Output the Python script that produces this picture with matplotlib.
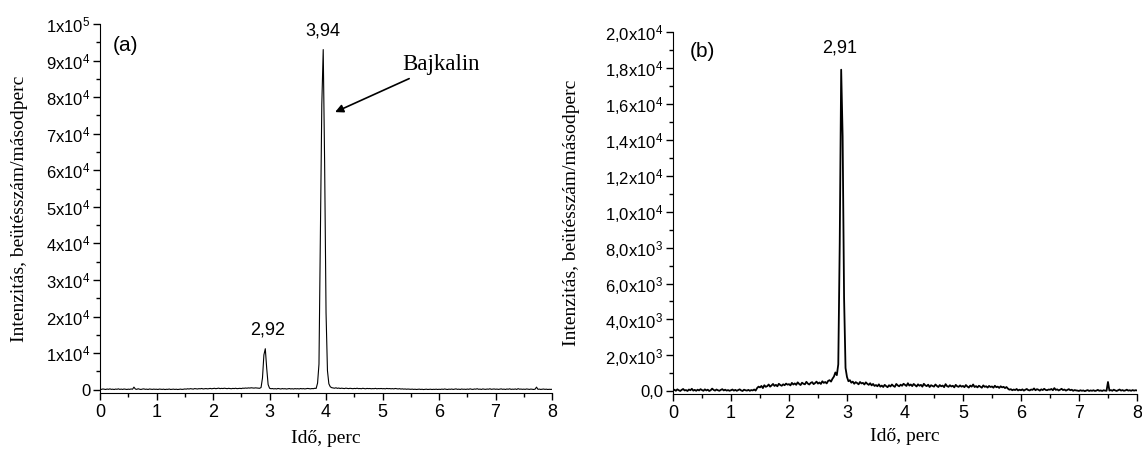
import numpy as np
import matplotlib
matplotlib.use('Agg')
import matplotlib.pyplot as plt
from matplotlib.ticker import MultipleLocator, FixedLocator

plt.rcParams['font.family'] = ['Liberation Sans', 'DejaVu Sans']
plt.rcParams['mathtext.default'] = 'regular'

# 时间轴: 0-8 perc, 0.025 perc 步长
ido = np.linspace(0, 8, 321)

# (a) 面板强度
intenzitas_a = [
    150, 80, 200, 120, 60, 180, 100, 220, 90, 140, 50, 170, 110, 230, 80, 160, 70, 190, 130, 60,
    150, 90, 200, 120, 700, 180, 90, 250, 130, 60, 170, 220, 100, 150, 60, 190, 120, 80, 160, 100,
    130, 60, 170, 110, 80, 150, 40, 120, 90, 180, 60, 110, 150, 70, 130, 50, 100, 160, 80, 120,
    200, 150, 250, 180, 280, 220, 160, 300, 230, 190, 280, 240, 330, 200, 260, 310, 230, 270, 350, 250,
    300, 380, 270, 340, 420, 290, 360, 310, 400, 330, 280, 370, 320, 260, 350, 300, 390, 280, 330, 370,
    300, 420, 380, 460, 400, 490, 440, 520, 470, 430, 500, 450, 400, 380, 600, 3200, 9500, 11200, 5800, 1400,
    400, 260, 310, 220, 280, 200, 330, 250, 190, 300, 230, 270, 180, 240, 310, 210, 260, 190, 290, 230,
    270, 200, 320, 240, 290, 210, 260, 340, 280, 230, 310, 270, 380, 350, 1800, 7000, 42000, 78000, 93000, 62000,
    21000, 5200, 1600, 800, 550, 480, 400, 520, 370, 450, 330, 410, 360, 300, 420, 340, 290, 380, 320, 270,
    350, 300, 400, 280, 330, 260, 380, 310, 240, 350, 290, 330, 250, 300, 270, 360, 240, 310, 280, 330,
    260, 300, 230, 350, 270, 310, 240, 290, 220, 330, 250, 200, 280, 170, 230, 150, 200, 120, 180, 140,
    100, 160, 80, 130, 60, 110, 150, 70, 120, 40, 100, 140, 60, 90, 130, 50, 110, 80, 140, 60,
    120, 70, 160, 90, 200, 110, 60, 150, 100, 180, 70, 130, 220, 90, 150, 60, 190, 110, 140, 80,
    170, 100, 230, 120, 80, 190, 140, 260, 110, 160, 70, 210, 130, 90, 180, 120, 250, 100, 150, 200,
    110, 170, 80, 140, 220, 100, 160, 60, 190, 120, 240, 90, 150, 110, 200, 70, 280, 130, 170, 100,
    150, 90, 200, 130, 80, 170, 110, 60, 140, 700, 100, 160, 70, 120, 180, 90, 140, 60, 110, 80,
    100,
]

# (b) 面板强度
intenzitas_b = [
    40, 90, 30, 110, 60, 20, 80, 130, 50, 70, 20, 100, 60, 140, 40, 80, 30, 90, 50, 120,
    70, 30, 110, 50, 90, 20, 60, 150, 80, 40, 100, 60, 30, 80, 120, 50, 90, 40, 70, 30,
    60, 100, 40, 80, 30, 70, 110, 50, 20, 90, 60, 40, 80, 30, 70, 50, 100, 40, 180, 260,
    220, 300, 180, 340, 250, 290, 380, 260, 330, 410, 300, 360, 280, 420, 350, 310, 390, 340, 430, 370,
    400, 330, 470, 380, 440, 360, 500, 410, 350, 480, 420, 390, 530, 430, 380, 470, 510, 400, 460, 540,
    430, 490, 410, 560, 470, 520, 440, 580, 620, 540, 700, 820, 1050, 900, 1500, 8200, 17900, 14200, 5200, 1300,
    800, 560, 620, 480, 540, 420, 510, 460, 390, 520, 440, 470, 380, 500, 420, 360, 450, 330, 410, 300,
    350, 280, 390, 260, 320, 240, 360, 290, 230, 340, 270, 380, 300, 250, 410, 330, 280, 370, 310, 420,
    360, 300, 450, 320, 380, 290, 410, 340, 270, 390, 310, 360, 260, 420, 330, 290, 370, 240, 340, 300,
    260, 380, 300, 240, 350, 280, 320, 230, 400, 290, 250, 340, 270, 310, 220, 360, 280, 250, 330, 260,
    300, 230, 350, 270, 210, 320, 260, 380, 240, 290, 220, 310, 260, 200, 330, 250, 280, 210, 300, 240,
    270, 200, 310, 230, 260, 190, 280, 220, 250, 180, 240, 150, 90, 120, 60, 100, 70, 130, 50, 90,
    60, 110, 40, 90, 130, 70, 50, 100, 80, 160, 60, 120, 90, 40, 110, 70, 140, 80, 60, 100,
    90, 130, 60, 180, 80, 110, 50, 90, 140, 70, 100, 40, 80, 120, 60, 90, 30, 70, 50, 40,
    20, 60, 30, 50, 10, 40, 70, 20, 50, 30, 60, 20, 40, 80, 30, 50, 20, 60, 40, 30,
    520, 40, 70, 30, 90, 50, 20, 60, 100, 40, 70, 30, 50, 90, 40, 60, 30, 70, 40, 60,
    50,
]

# 刻度标签
yticks_a = [0, 1e4, 2e4, 3e4, 4e4, 5e4, 6e4, 7e4, 8e4, 9e4, 1e5]
ylabels_a = ['0'] + ['$%dx10^{4}$' % i for i in range(1, 10)] + ['$1x10^{5}$']
yticks_b = [0, 2e3, 4e3, 6e3, 8e3, 1e4, 1.2e4, 1.4e4, 1.6e4, 1.8e4, 2e4]
ylabels_b = ['0,0', '$2{,}0x10^{3}$', '$4{,}0x10^{3}$', '$6{,}0x10^{3}$', '$8{,}0x10^{3}$',
             '$1{,}0x10^{4}$', '$1{,}2x10^{4}$', '$1{,}4x10^{4}$', '$1{,}6x10^{4}$',
             '$1{,}8x10^{4}$', '$2{,}0x10^{4}$']

serif = ['Liberation Serif', 'DejaVu Serif']

fig = plt.figure(figsize=(11.42, 4.53), dpi=100)
ax1 = fig.add_axes([0.0876, 0.1325, 0.3958, 0.8146])
ax2 = fig.add_axes([0.5893, 0.1302, 0.4063, 0.7992])


def style(ax, yt, yl, ymin, ymax, minor):
    ax.set_xlim(0, 8)
    ax.set_ylim(ymin, ymax)
    ax.spines['top'].set_visible(False)
    ax.spines['right'].set_visible(False)
    ax.xaxis.set_major_locator(MultipleLocator(1))
    ax.xaxis.set_minor_locator(MultipleLocator(0.5))
    ax.yaxis.set_major_locator(FixedLocator(yt))
    ax.set_yticklabels(yl)
    ax.yaxis.set_minor_locator(MultipleLocator(minor))
    ax.tick_params(which='major', direction='out', length=5, width=1)
    ax.tick_params(which='minor', direction='out', length=3, width=1)
    ax.tick_params(axis='x', labelsize=13, pad=3)
    ax.tick_params(axis='y', labelsize=12, pad=2)
    ax.set_xlabel('Idő, perc', family=serif, fontsize=14)
    ax.set_ylabel('Intenzitás, beütésszám/másodperc', family=serif, fontsize=14)


ax1.plot(ido, intenzitas_a, color='black', lw=0.8)
style(ax1, yticks_a, ylabels_a, -900, 1e5, 5000)
ax1.yaxis.set_label_coords(-0.16, 0.5)
ax1.xaxis.set_label_coords(0.5, -0.1)
ax1.text(0.22, 94000, '(a)', fontsize=15, va='center')
ax1.text(3.95, 98000, '3,94', fontsize=13, ha='center', va='center')
ax1.text(2.96, 16400, '2,92', fontsize=13, ha='center', va='center')
ax1.annotate('Bajkalin', xy=(4.16, 75900), xytext=(5.35, 89000),
             family=serif, fontsize=16.5, va='center',
             arrowprops=dict(arrowstyle='-|>', color='black', lw=1.2,
                             mutation_scale=12, shrinkA=2, shrinkB=0))

ax2.plot(ido, intenzitas_b, color='black', lw=1.3)
style(ax2, yticks_b, ylabels_b, -150, 2e4, 1000)
ax2.yaxis.set_label_coords(-0.2, 0.5)
ax2.xaxis.set_label_coords(0.5, -0.094)
ax2.text(0.5, 18900, '(b)', fontsize=15, ha='center', va='center')
ax2.text(2.88, 19100, '2,91', fontsize=13, ha='center', va='center')

fig.savefig('out.png', dpi=100)
